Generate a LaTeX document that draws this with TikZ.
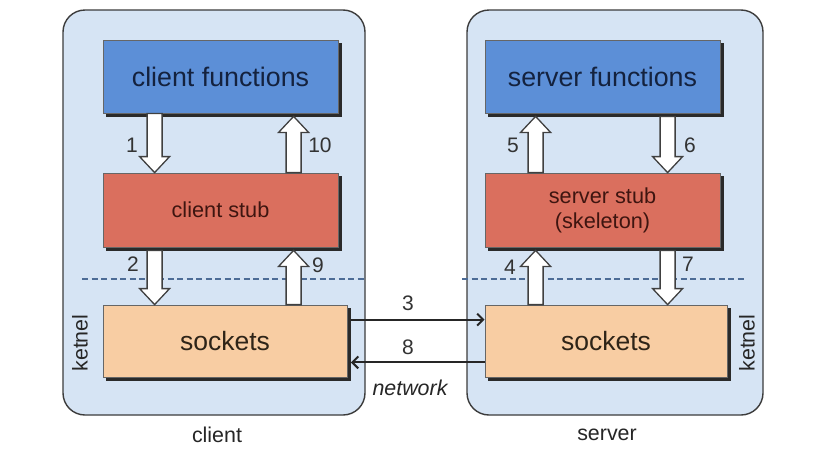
\documentclass[tikz,border=0pt]{standalone}
\usepackage{fontspec}
\setmainfont{Liberation Sans}
\usetikzlibrary{calc,arrows.meta,backgrounds}
\definecolor{contfill}{HTML}{D6E4F4}
\definecolor{contline}{HTML}{3C3C3C}
\definecolor{funcfill}{HTML}{5C8FD7}
\definecolor{functext}{HTML}{14223E}
\definecolor{stubfill}{HTML}{DA6F5E}
\definecolor{stubtext}{HTML}{3E1510}
\definecolor{sockfill}{HTML}{F8CDA3}
\definecolor{socktext}{HTML}{2E2418}
\definecolor{dashcol}{HTML}{4D6C96}
\definecolor{shadowcol}{HTML}{2A2A2A}
\newcommand\fatarrow[2]{%
  \draw[fatarrowstyle] let \p1=(#1), \p2=(#2), \n1={16*(\y2-\y1)/abs(\y2-\y1)} in
    (\x1-7.5pt,\y1) -- (\x1-7.5pt,{\y2-\n1*1pt}) -- (\x1-15pt,{\y2-\n1*1pt})
    -- (\x2,\y2) -- (\x1+15pt,{\y2-\n1*1pt}) -- (\x1+7.5pt,{\y2-\n1*1pt})
    -- (\x1+7.5pt,\y1) -- cycle;}
\newcommand\boxshadow[1]{%
  \fill[boxshadowstyle] ($(#1.north west)+(3.5,3.5)$) rectangle ($(#1.south east)+(3.5,3.5)$);}
\begin{document}
\begin{tikzpicture}[x=1pt,y=-1pt,
  container/.style={draw=contline, fill=contfill, line width=1.4pt, rounded corners=22pt},
  boxshadowstyle/.style={fill=shadowcol},
  boxbase/.style={draw=black!60, line width=0.8pt, inner sep=0pt, align=center},
  funcbox/.style={boxbase, fill=funcfill, text=functext, minimum width=235pt, minimum height=73pt,
    font=\fontsize{26.8}{30}\selectfont},
  stubbox/.style={boxbase, fill=stubfill, text=stubtext, minimum width=235pt, minimum height=74pt,
    font=\fontsize{21.7}{25}\selectfont},
  sockbox/.style={boxbase, fill=sockfill, text=socktext, minimum height=72pt,
    font=\fontsize{26.5}{30}\selectfont},
  fatarrowstyle/.style={draw=black!75, fill=white, line width=1.3pt, line join=miter},
  numlabel/.style={font=\fontsize{21}{24}\selectfont, text=black!80, inner sep=0pt},
  smalllabel/.style={font=\fontsize{21.4}{24}\selectfont, text=black!85, inner sep=0pt},
  kernel/.style={smalllabel, rotate=90},
  divider/.style={dashcol, dashed, dash pattern=on 6pt off 3.5pt, line width=1.3pt},
  netarrow/.style={draw=black!85, line width=2pt, -{Straight Barb[length=6pt,width=12pt]}}
]
\useasboundingbox (0,0) rectangle (828,453);

% client boxes
\node[funcbox] (cf) at (220.5,76.5) {client functions};
\node[stubbox] (cs) at (220.5,210) {client stub};
\node[sockbox, minimum width=244pt] (ck) at (225,341) {sockets};

% server boxes
\node[funcbox] (sf) at (602.5,76.5) {server functions};
\node[stubbox] (ss) at (602.5,210) {server stub\\(skeleton)};
\node[sockbox, minimum width=242pt] (sk) at (606,341) {sockets};

\begin{scope}[on background layer]
  \fill[white] (0,0) rectangle (828,453);
  % containers
  \draw[container] (63,10) rectangle (365,415);
  \draw[container] (467,10) rectangle (763,415);
  % dashed kernel boundaries
  \draw[divider] (82,279) -- (365,279);
  \draw[divider] (462,279) -- (745,279);
  % shadows
  \boxshadow{cf}
  \boxshadow{cs}
  \boxshadow{ck}
  \boxshadow{sf}
  \boxshadow{ss}
  \boxshadow{sk}
\end{scope}

% block arrows, client
\coordinate (a1s) at ($(cf.south west)+(52,0)$);
\coordinate (a1e) at (a1s |- cs.north);
\fatarrow{a1s}{a1e}
\coordinate (a10s) at ($(cs.north west)+(191,0)$);
\coordinate (a10e) at ($(a10s |- cf.south)+(0,3)$);
\fatarrow{a10s}{a10e}
\coordinate (a2s) at ($(cs.south west)+(52,3)$);
\coordinate (a2e) at (a2s |- ck.north);
\fatarrow{a2s}{a2e}
\coordinate (a9s) at ($(ck.north west)+(191,0)$);
\coordinate (a9e) at ($(a9s |- cs.south)+(0,3)$);
\fatarrow{a9s}{a9e}

% block arrows, server
\coordinate (a5s) at ($(ss.north west)+(51,0)$);
\coordinate (a5e) at ($(a5s |- sf.south)+(0,3)$);
\fatarrow{a5s}{a5e}
\coordinate (a6s) at ($(sf.south west)+(183,3)$);
\coordinate (a6e) at (a6s |- ss.north);
\fatarrow{a6s}{a6e}
\coordinate (a4s) at ($(sk.north west)+(51,0)$);
\coordinate (a4e) at ($(a4s |- ss.south)+(0,3)$);
\fatarrow{a4s}{a4e}
\coordinate (a7s) at ($(ss.south west)+(183,3)$);
\coordinate (a7e) at (a7s |- sk.north);
\fatarrow{a7s}{a7e}

% step numbers
\node[numlabel] (n1) at (132,145) {1};
\node[numlabel] (n10) at (320,145) {10};
\node[numlabel] (n2) at (133,264) {2};
\node[numlabel] (n9) at (318,265) {9};
\node[numlabel] (n5) at (513,145) {5};
\node[numlabel] (n6) at (690,145) {6};
\node[numlabel] (n4) at (510,267) {4};
\node[numlabel] (n7) at (688,264) {7};

% network arrows
\coordinate (n3s) at ($(ck.north east)+(3.5,15)$);
\coordinate (n3e) at (n3s -| sk.west);
\draw[netarrow] (n3s) -- (n3e);
\coordinate (n8s) at ($(sk.south west)+(0,-15)$);
\coordinate (n8e) at ($(n8s -| ck.east)+(3.5,0)$);
\draw[netarrow] (n8s) -- (n8e);
\node[numlabel] (n3) at (408,303) {3};
\node[numlabel] (n8) at (408,347) {8};
\node[smalllabel, font=\fontsize{21.4}{24}\selectfont\itshape] (net) at (410,388) {network};

% kernel labels
\node[kernel] (kc) at (80,343) {ketnel};
\node[kernel] (ks) at (747,343) {ketnel};

% machine labels
\node[smalllabel] (cl) at (217,435) {client};
\node[smalllabel] (sl) at (607,435) {server};
\end{tikzpicture}
\end{document}
